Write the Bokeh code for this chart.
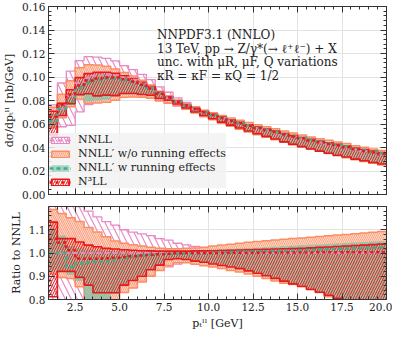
import numpy as np
from bokeh.plotting import figure
from bokeh.layouts import column
from bokeh.core.properties import value
from bokeh.models import (LinearAxis, SingleIntervalTicker, PrintfTickFormatter,
                          Range1d, Legend, LegendItem, ColumnDataSource)
from bokeh.embed import file_html
from bokeh.resources import INLINE

# ---------------- data ----------------
bin_edges = [1.0, 1.5, 2.0, 2.5, 3.0, 3.5, 4.0, 4.5, 5.0, 5.5, 6.0, 6.5, 7.0,
             7.5, 8.0, 8.5, 9.0, 9.5, 10.0, 10.5, 11.0, 11.5, 12.0, 12.5, 13.0,
             13.5, 14.0, 14.5, 15.0, 15.5, 16.0, 16.5, 17.0, 17.5, 18.0, 18.5,
             19.0, 19.5, 20.0]

# NNLL central value, dsigma/dpt [nb/GeV]
nnll_central = [0.0625, 0.0730, 0.0840, 0.0950, 0.0995, 0.1012, 0.1020, 0.1015,
                0.0997, 0.0975, 0.0945, 0.0910, 0.0862, 0.0825, 0.0790, 0.0758,
                0.0728, 0.0700, 0.0676, 0.0651, 0.0628, 0.0606, 0.0585, 0.0566,
                0.0548, 0.0530, 0.0510, 0.0492, 0.0475, 0.0459, 0.0444, 0.0429,
                0.0415, 0.0401, 0.0384, 0.0370, 0.0356, 0.0343]

# ratios to NNLL central
nnll_hi = [1.22, 1.30, 1.25, 1.20, 1.18, 1.155, 1.135, 1.12, 1.10, 1.09, 1.082,
           1.075, 1.062, 1.055, 1.042, 1.035, 1.028, 1.022, 1.016, 1.015, 1.015,
           1.015, 1.015, 1.015, 1.016, 1.016, 1.016, 1.017, 1.017, 1.017, 1.018,
           1.018, 1.018, 1.019, 1.019, 1.019, 1.02, 1.02]
nnll_lo = [0.78, 0.79, 0.70, 0.74, 0.77, 0.79, 0.80, 0.83, 0.855, 0.868, 0.882,
           0.905, 0.925, 0.94, 0.952, 0.96, 0.966, 0.972, 0.978, 0.98, 0.98,
           0.98, 0.98, 0.98, 0.98, 0.98, 0.98, 0.98, 0.98, 0.98, 0.98, 0.98,
           0.98, 0.98, 0.98, 0.98, 0.98, 0.98]

wo_hi = [1.187, 1.17, 1.152, 1.135, 1.11, 1.09, 1.07, 1.052, 1.042, 1.035, 1.03,
         1.025, 1.02, 1.018, 1.018, 1.02, 1.022, 1.025, 1.03, 1.034, 1.038, 1.042,
         1.046, 1.05, 1.053, 1.056, 1.059, 1.062, 1.065, 1.068, 1.071, 1.074,
         1.077, 1.08, 1.083, 1.086, 1.089, 1.092]
wo_lo = [0.91, 0.895, 0.89, 0.855, 0.78, 0.77, 0.77, 0.79, 0.83, 0.85, 0.875,
         0.9, 0.925, 0.945, 0.958, 0.958, 0.952, 0.945, 0.94, 0.933, 0.925,
         0.918, 0.91, 0.9, 0.89, 0.88, 0.87, 0.865, 0.855, 0.845, 0.83, 0.812,
         0.795, 0.782, 0.77, 0.758, 0.746, 0.735]

w_center = [1.0, 1.0, 0.94, 0.955, 0.96, 0.962, 0.965, 0.97, 0.977, 0.984, 0.99,
            0.993, 0.995, 0.996, 0.997, 0.998, 0.999, 1.0, 1.002, 1.003, 1.004,
            1.005, 1.006, 1.007, 1.008, 1.009, 1.01, 1.011, 1.012, 1.013, 1.015,
            1.016, 1.018, 1.019, 1.02, 1.022, 1.023, 1.025]
w_hi = [1.10, 1.075, 1.03, 1.02, 1.015, 1.012, 1.01, 1.008, 1.006, 1.005, 1.005,
        1.005, 1.005, 1.006, 1.007, 1.008, 1.009, 1.011, 1.013, 1.015, 1.017,
        1.019, 1.021, 1.023, 1.025, 1.027, 1.029, 1.031, 1.033, 1.035, 1.037,
        1.039, 1.041, 1.043, 1.045, 1.047, 1.049, 1.051]
w_lo = [0.92, 0.92, 0.905, 0.88, 0.795, 0.79, 0.79, 0.825, 0.865, 0.885, 0.905,
        0.93, 0.95, 0.972, 0.977, 0.975, 0.968, 0.963, 0.956, 0.949, 0.943,
        0.936, 0.926, 0.916, 0.905, 0.894, 0.882, 0.87, 0.861, 0.846, 0.834,
        0.821, 0.808, 0.798, 0.788, 0.778, 0.768, 0.758]

n3ll_center = [1.06, 1.045, 1.012, 0.976, 0.975, 0.975, 0.977, 0.98, 0.983,
               0.986, 0.989, 0.992, 0.995, 0.997, 0.999, 1.0, 1.0, 1.0, 1.0, 1.0,
               1.001, 1.001, 1.001, 1.001, 1.002, 1.002, 1.002, 1.002, 1.002,
               1.002, 1.003, 1.003, 1.003, 1.003, 1.003, 1.003, 1.003, 1.003]
n3ll_hi = [1.133, 1.062, 1.062, 1.047, 1.034, 1.027, 1.02, 1.017, 1.014, 1.012,
           1.01, 1.009, 1.008, 1.008, 1.008, 1.008, 1.009, 1.009, 1.01, 1.011,
           1.012, 1.013, 1.014, 1.015, 1.016, 1.017, 1.018, 1.019, 1.02, 1.022,
           1.024, 1.026, 1.028, 1.03, 1.032, 1.034, 1.036, 1.038]
n3ll_lo = [0.812, 0.921, 0.921, 0.895, 0.862, 0.829, 0.829, 0.829, 0.862, 0.882,
           0.90, 0.928, 0.948, 0.972, 0.975, 0.972, 0.965, 0.96, 0.953, 0.946,
           0.94, 0.933, 0.923, 0.913, 0.902, 0.891, 0.879, 0.867, 0.857, 0.843,
           0.831, 0.818, 0.805, 0.795, 0.785, 0.775, 0.765, 0.755]

legend_labels = ["NNLL", "NNLL\u2032 w/o running effects",
                 "NNLL\u2032 w running effects", "N\u00b3LL"]
info_lines = ["NNPDF3.1 (NNLO)",
              "13 TeV, pp \u2192 Z/\u03b3*(\u2192 \u2113\u207a\u2113\u207b) + X",
              "unc. with \u03bcR, \u03bcF, Q variations",
              "\u03baR = \u03baF = \u03baQ = 1/2"]
info_x = [7.1, 7.1, 7.1, 7.1]
info_y = [0.1355, 0.1240, 0.1125, 0.1010]   # text baselines

# ---------------- style ----------------
FONT = "DejaVu Serif"
TXT = "#222222"
AX = "#333333"
PINK = "#e78ac3"
ORANGE = "#fc8d62"
TEAL = "#66c2a5"
TEAL_D = "#4aa888"
RED = "#e41a1c"

edges = np.array(bin_edges)
central = np.array(nnll_central)


def ext(a):
    a = np.asarray(a, dtype=float)
    return np.append(a, a[-1])


def style_axis(ax, ticker, fmt, show_labels):
    ax.ticker = ticker
    ax.formatter = PrintfTickFormatter(format=fmt)
    ax.axis_line_color = AX
    ax.major_tick_line_color = AX
    ax.minor_tick_line_color = AX
    ax.major_tick_in = 6
    ax.major_tick_out = 0
    ax.minor_tick_in = 3
    ax.minor_tick_out = 0
    ax.major_label_text_font = FONT
    ax.axis_label_text_font = FONT
    ax.axis_label_text_font_style = "normal"
    ax.axis_label_text_color = TXT
    ax.axis_label_text_font_size = "11px"
    ax.axis_label_standoff = 3
    if show_labels:
        ax.major_label_text_font_size = "10.5px"
        ax.major_label_text_color = TXT
        ax.major_label_standoff = 3
    else:
        ax.major_label_text_font_size = "1px"
        ax.major_label_text_color = None
        ax.major_label_standoff = 0


xr = Range1d(1.0, 20.0)


def make_fig(y0, y1, frame_h, btop, bbottom, xlabels, yint, yfmt, ylabel, xlabel=None):
    p = figure(frame_width=338, frame_height=frame_h, x_range=xr,
               y_range=Range1d(y0, y1), output_backend="svg",
               toolbar_location=None, min_border_left=42, min_border_right=12,
               min_border_top=btop, min_border_bottom=bbottom)
    p.outline_line_color = None
    xt = SingleIntervalTicker(interval=2.5, num_minor_ticks=5)
    yt = SingleIntervalTicker(interval=yint, num_minor_ticks=5)
    style_axis(p.xaxis[0], xt, "%.1f", xlabels)
    style_axis(p.yaxis[0], yt, yfmt, True)
    p.yaxis[0].axis_label = ylabel
    if xlabel:
        p.xaxis[0].axis_label = xlabel
    ax_top = LinearAxis()
    style_axis(ax_top, xt, "%.1f", False)
    p.add_layout(ax_top, "above")
    ax_right = LinearAxis()
    style_axis(ax_right, yt, "%.2f", False)
    p.add_layout(ax_right, "right")
    p.xgrid.ticker = xt
    p.ygrid.ticker = yt
    p.xgrid.grid_line_color = "#e3e3e3"
    p.ygrid.grid_line_color = "#e3e3e3"
    return p


def draw_panel(p, scale):
    s = np.asarray(scale, dtype=float)
    out = {}
    # NNLL
    p.varea_step(x=edges, y1=ext(np.array(nnll_lo) * s), y2=ext(np.array(nnll_hi) * s),
                 step_mode="after", fill_color=None, hatch_pattern="\\",
                 hatch_color=PINK, hatch_scale=12, hatch_weight=1.2)
    for arr in (nnll_hi, nnll_lo):
        p.step(x=edges, y=ext(np.array(arr) * s), mode="after",
               line_color=PINK, line_width=1.3)
    # NNLL' w/o
    p.varea_step(x=edges, y1=ext(np.array(wo_lo) * s), y2=ext(np.array(wo_hi) * s),
                 step_mode="after", fill_color=ORANGE, fill_alpha=0.8,
                 hatch_pattern="\\", hatch_color="white", hatch_alpha=0.75,
                 hatch_scale=4, hatch_weight=0.8)
    for arr in (wo_hi, wo_lo):
        p.step(x=edges, y=ext(np.array(arr) * s), mode="after",
               line_color=ORANGE, line_width=1.5)
    # NNLL' w
    p.varea_step(x=edges, y1=ext(np.array(w_lo) * s), y2=ext(np.array(w_hi) * s),
                 step_mode="after", fill_color=TEAL, fill_alpha=0.6)
    # N3LL
    p.varea_step(x=edges, y1=ext(np.array(n3ll_lo) * s), y2=ext(np.array(n3ll_hi) * s),
                 step_mode="after", fill_color=None, hatch_pattern="/",
                 hatch_color=RED, hatch_scale=5, hatch_weight=1.0)
    for arr in (n3ll_hi, n3ll_lo):
        p.step(x=edges, y=ext(np.array(arr) * s), mode="after",
               line_color=RED, line_width=1.6)
    # central values
    out["pink"] = p.step(x=edges, y=ext(central / central * s), mode="after",
                         line_color=PINK, line_width=2.2, line_dash="5 3")
    out["teal"] = p.step(x=edges, y=ext(np.array(w_center) * s), mode="after",
                         line_color=TEAL_D, line_width=2.5, line_dash="4 3")
    out["red"] = p.step(x=edges, y=ext(np.array(n3ll_center) * s), mode="after",
                        line_color=RED, line_width=2.5, line_dash="3 3")
    return out


# ---------------- top panel ----------------
top = make_fig(0.0, 0.16, 188, 6, 6, False, 0.02, "%.2f",
               "d\u03c3/dp\u209c\u02e1\u02e1 [nb/GeV]")
lines_top = draw_panel(top, central)


# legend swatches: one undefined (NaN) box each, so nothing is drawn in the plot
def proxy(**kw):
    src = ColumnDataSource(dict(l=[np.nan], r=[np.nan], t=[np.nan], b=[np.nan]))
    return top.quad(left="l", right="r", top="t", bottom="b", source=src, **kw)


pk_proxy = proxy(fill_color="white", hatch_pattern="\\", hatch_color=PINK,
                 hatch_scale=6, line_color=PINK, line_width=1.3)
or_proxy = proxy(fill_color=ORANGE, fill_alpha=0.8, hatch_pattern="\\",
                 hatch_color="white", hatch_alpha=0.75, hatch_scale=4,
                 hatch_weight=0.8, line_color=ORANGE, line_width=1.5)
te_proxy = proxy(fill_color=TEAL, fill_alpha=0.6, line_color=None)
rd_proxy = proxy(fill_color="white", hatch_pattern="/", hatch_color=RED,
                 hatch_scale=5, line_color=RED, line_width=1.6)

legend = Legend(items=[
    LegendItem(label=legend_labels[0], renderers=[pk_proxy, lines_top["pink"]]),
    LegendItem(label=legend_labels[1], renderers=[or_proxy]),
    LegendItem(label=legend_labels[2], renderers=[te_proxy, lines_top["teal"]]),
    LegendItem(label=legend_labels[3], renderers=[rd_proxy, lines_top["red"]]),
], location=(1, 6))
legend.background_fill_color = "#f2f2f2"
legend.background_fill_alpha = 0.85
legend.border_line_color = None
legend.label_text_font = FONT
legend.label_text_font_size = "11px"
legend.label_text_color = TXT
legend.glyph_width = 22
legend.glyph_height = 8
legend.label_height = 12
legend.spacing = 1
legend.padding = 3
legend.label_standoff = 7
legend.margin = 0
top.add_layout(legend)

top.text(x=info_x, y=info_y, text=info_lines, text_font=value(FONT),
         text_font_size=value("12px"), text_color=TXT,
         text_baseline="alphabetic", text_align="left")

# ---------------- ratio panel ----------------
ratio = make_fig(0.8, 1.2, 93, 6, 28, True, 0.1, "%.1f", "Ratio to NNLL",
                 "p\u209c\u02e1\u02e1 [GeV]")
draw_panel(ratio, central / central)

layout = column(top, ratio)
open("out.html", "w").write(file_html(layout, INLINE))
